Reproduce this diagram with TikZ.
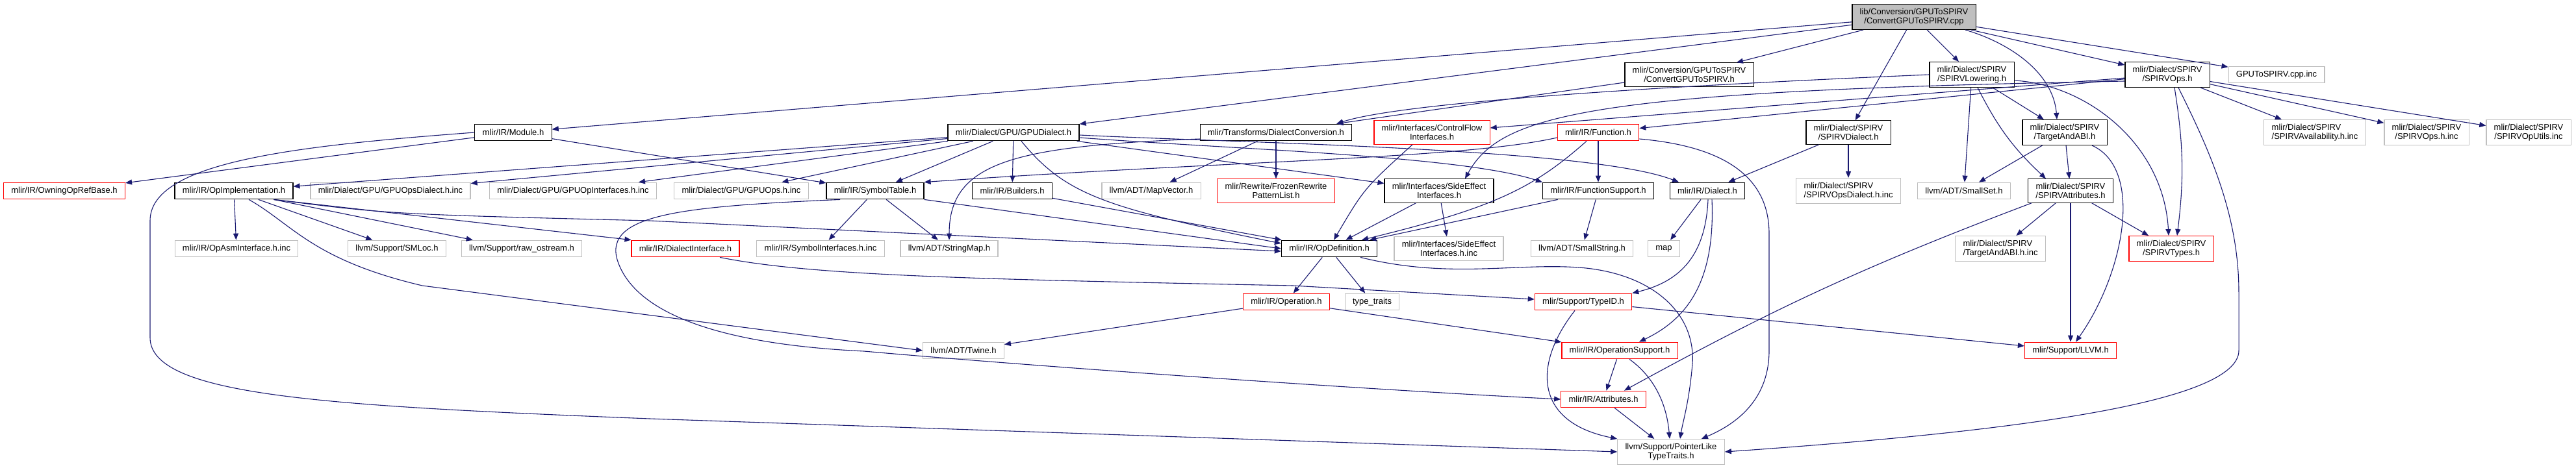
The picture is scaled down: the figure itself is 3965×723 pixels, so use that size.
\documentclass[tikz,border=0pt]{standalone}
\usepackage{fontspec}
\setsansfont{Liberation Sans}
\usepackage{tikz}
\usetikzlibrary{arrows.meta}
\definecolor{edgeblue}{HTML}{191970}
\definecolor{srcgray}{HTML}{BFBFBF}
\definecolor{extgray}{HTML}{BFBFBF}
\definecolor{truncred}{HTML}{FF0000}

\begin{document}
\begin{tikzpicture}[
  x=0.5pt, y=-0.5pt,
  hdr/.style={rectangle, draw=black, line width=0.6pt, fill=white, align=center,
    font=\sffamily\fontsize{6.5}{7}\selectfont, inner xsep=5.9pt, inner ysep=3.2pt,
    minimum height=12.8pt},
  src/.style={hdr, fill=srcgray},
  trunc/.style={hdr, draw=truncred},
  ext/.style={hdr, draw=extgray},
  arr/.style={-{Triangle[length=5pt,width=4pt]}, edgeblue, line width=0.55pt},
]
  \useasboundingbox (0,0) rectangle (3965,723);

  \node[src] (main) at (2946,26) {lib/Conversion/GPUToSPIRV\\/ConvertGPUToSPIRV.cpp};

  \node[hdr] (convh) at (2600,115) {mlir/Conversion/GPUToSPIRV\\/ConvertGPUToSPIRV.h};
  \node[hdr] (lowering) at (3035,115) {mlir/Dialect/SPIRV\\/SPIRVLowering.h};
  \node[hdr] (spirvops) at (3336,115) {mlir/Dialect/SPIRV\\/SPIRVOps.h};
  \node[ext] (cppinc) at (3504,115) {GPUToSPIRV.cpp.inc};

  \node[hdr] (module) at (790,204) {mlir/IR/Module.h};
  \node[hdr] (gpudialect) at (1560,204) {mlir/Dialect/GPU/GPUDialect.h};
  \node[hdr] (dconv) at (1964,204) {mlir/Transforms/DialectConversion.h};
  \node[trunc] (cflow) at (2204,204) {mlir/Interfaces/ControlFlow\\Interfaces.h};
  \node[trunc] (function) at (2460,204) {mlir/IR/Function.h};
  \node[hdr] (spirvdialect) at (2845,204) {mlir/Dialect/SPIRV\\/SPIRVDialect.h};
  \node[hdr] (tabi) at (3178,204) {mlir/Dialect/SPIRV\\/TargetAndABI.h};
  \node[ext, align=left] (avail) at (3563,204) {mlir/Dialect/SPIRV\\/SPIRVAvailability.h.inc};
  \node[ext] (opsinc) at (3735,204) {mlir/Dialect/SPIRV\\/SPIRVOps.h.inc};
  \node[ext] (oputils) at (3892,204) {mlir/Dialect/SPIRV\\/SPIRVOpUtils.inc};

  \node[trunc] (owning) at (99,294) {mlir/IR/OwningOpRefBase.h};
  \node[hdr] (opimpl) at (360,294) {mlir/IR/OpImplementation.h};
  \node[ext] (gpuopsdialect) at (601,294) {mlir/Dialect/GPU/GPUOpsDialect.h.inc};
  \node[ext] (gpuopif) at (882,294) {mlir/Dialect/GPU/GPUOpInterfaces.h.inc};
  \node[ext] (gpuopsinc) at (1141,294) {mlir/Dialect/GPU/GPUOps.h.inc};
  \node[hdr] (symtab) at (1347,294) {mlir/IR/SymbolTable.h};
  \node[hdr] (builders) at (1558,294) {mlir/IR/Builders.h};
  \node[ext] (mapvec) at (1772,294) {llvm/ADT/MapVector.h};
  \node[trunc] (frozen) at (1964,294) {mlir/Rewrite/FrozenRewrite\\PatternList.h};
  \node[hdr] (sideeff) at (2215,294) {mlir/Interfaces/SideEffect\\Interfaces.h};
  \node[hdr] (funcsup) at (2460,294) {mlir/IR/FunctionSupport.h};
  \node[hdr] (dialect) at (2628,294) {mlir/IR/Dialect.h};
  \node[ext, align=left] (opsdialinc) at (2845,294) {mlir/Dialect/SPIRV\\/SPIRVOpsDialect.h.inc};
  \node[ext] (smallset) at (3023,294) {llvm/ADT/SmallSet.h};
  \node[hdr] (spattr) at (3187,294) {mlir/Dialect/SPIRV\\/SPIRVAttributes.h};

  \node[ext] (asmif) at (364,383) {mlir/IR/OpAsmInterface.h.inc};
  \node[ext] (smloc) at (611,383) {llvm/Support/SMLoc.h};
  \node[ext] (rawos) at (803,383) {llvm/Support/raw\_ostream.h};
  \node[trunc] (dialif) at (1055,383) {mlir/IR/DialectInterface.h};
  \node[ext] (symif) at (1263,383) {mlir/IR/SymbolInterfaces.h.inc};
  \node[ext] (strmap) at (1461,383) {llvm/ADT/StringMap.h};
  \node[hdr] (opdef) at (2046,383) {mlir/IR/OpDefinition.h};
  \node[ext] (sideinc) at (2230,383) {mlir/Interfaces/SideEffect\\Interfaces.h.inc};
  \node[ext] (smallstr) at (2435,383) {llvm/ADT/SmallString.h};
  \node[ext] (stdmap) at (2561,383) {map};
  \node[ext, align=left] (tabiinc) at (3079,383) {mlir/Dialect/SPIRV\\/TargetAndABI.h.inc};
  \node[trunc] (sptypes) at (3342,383) {mlir/Dialect/SPIRV\\/SPIRVTypes.h};

  \node[trunc] (operation) at (1980,465) {mlir/IR/Operation.h};
  \node[ext] (typetraits) at (2112,465) {type\_traits};
  \node[trunc] (typeid) at (2437,465) {mlir/Support/TypeID.h};

  \node[ext] (twine) at (1483,540) {llvm/ADT/Twine.h};
  \node[trunc] (opsupport) at (2493,540) {mlir/IR/OperationSupport.h};
  \node[trunc] (llvmh) at (3187,540) {mlir/Support/LLVM.h};

  \node[trunc] (attrs) at (2468,615) {mlir/IR/Attributes.h};

  \node[ext] (ptrlike) at (2572,696) {llvm/Support/PointerLike\\TypeTraits.h};

  \draw[arr] (main) -- (convh);
  \draw[arr] (main) -- (lowering);
  \draw[arr] (main) -- (spirvops);
  \draw[arr] (main) -- (cppinc);
  \draw[arr] (main) -- (module);
  \draw[arr] (main) -- (gpudialect);
  \draw[arr] (main) -- (spirvdialect);
  \draw[arr] ([xshift=39.5pt]main.south) .. controls (3090,65) and (3160,110) .. ([xshift=-6pt]tabi.north);

  \draw[arr] ([yshift=-6pt]convh.west) -- ([xshift=-12pt]dconv.north east);

  \draw[arr] (lowering.west) .. controls (2500,135) and (2150,160) .. ([xshift=-12pt]dconv.north east);
  \draw[arr] (lowering) -- (smallset);
  \draw[arr] (lowering) -- (tabi);
  \draw[arr] ([xshift=4.5pt]lowering.south) to[bend right=10] ([xshift=-19pt]spattr.north);
  \draw[arr] ([yshift=-4.5pt]lowering.east) .. controls (3210,130) and (3330,220) .. ([xshift=-2pt]sptypes.north);

  \draw[arr] (spirvops) -- (avail);
  \draw[arr] (spirvops) -- (opsinc);
  \draw[arr] (spirvops) -- (oputils);
  \draw[arr] ([xshift=5.5pt]spirvops.south) to[bend left=8] ([xshift=4.5pt]sptypes.north);
  \draw[arr] ([xshift=8.5pt]spirvops.south) .. controls (3400,230) and (3446,330) .. (3446,450) -- (3446,540)
    .. controls (3446,620) and (3100,665) .. (ptrlike.east);
  \draw[arr] (spirvops) -- (cflow);
  \draw[arr] (spirvops) -- (function);
  \draw[arr] ([yshift=-5pt]spirvops.west) .. controls (2450,140) and (2310,175) .. ([xshift=20pt]sideeff.north);

  \draw[arr] (module) -- (owning);
  \draw[arr] (module) -- (symtab);
  \draw[arr] (module.west) .. controls (450,225) and (231,250) .. (231,340) -- (231,520)
    .. controls (231,610) and (500,625) .. (1000,645) -- (ptrlike.west);

  \draw[arr] (gpudialect) -- (opimpl);
  \draw[arr] (gpudialect) -- (gpuopsdialect);
  \draw[arr] (gpudialect) -- (gpuopif);
  \draw[arr] (gpudialect) -- (gpuopsinc);
  \draw[arr] (gpudialect) -- (symtab);
  \draw[arr] (gpudialect) -- (builders);
  \draw[arr] ([xshift=6pt]gpudialect.south) .. controls (1640,300) and (1700,320) .. ([yshift=4pt]opdef.west);
  \draw[arr] (gpudialect) -- (sideeff);
  \draw[arr] ([yshift=-4pt]gpudialect.east) .. controls (1900,230) and (2250,240) .. (funcsup.north west);
  \draw[arr] ([yshift=-2pt]gpudialect.east) .. controls (1900,220) and (2450,228) .. ([xshift=-22pt]dialect.north);

  \draw[arr] (dconv) -- (mapvec);
  \draw[arr] (dconv) -- (frozen);
  \draw[arr] ([yshift=-5pt]dconv.west) .. controls (1560,225) and (1461,250) .. (strmap.north);

  \draw[arr] ([xshift=-15pt]cflow.south) .. controls (2100,290) .. ([xshift=3.5pt]opdef.north);

  \draw[arr] (function) -- (funcsup);
  \draw[arr] ([xshift=-9pt]function.south) .. controls (2360,290) and (2300,320) .. ([xshift=25pt]opdef.north);
  \draw[arr] ([yshift=-4pt]function.west) .. controls (2250,245) and (1900,247) .. (symtab.north east);
  \draw[arr] ([yshift=-5pt]function.east) .. controls (2650,225) and (2723,270) .. (2723,360) -- (2723,540)
    .. controls (2723,610) and (2680,650) .. ([xshift=-18pt]ptrlike.north east);

  \draw[arr] (spirvdialect) -- (dialect);
  \draw[arr] (spirvdialect) -- (opsdialinc);

  \draw[arr] (tabi) -- (smallset);
  \draw[arr] (tabi) -- (spattr);
  \draw[arr] ([xshift=21pt]tabi.south) .. controls (3300,260) and (3270,420) .. ([xshift=4pt]llvmh.north);

  \draw[arr] (opimpl) -- (asmif);
  \draw[arr] ([xshift=11.5pt]opimpl.south) .. controls (450,345) and (480,400) .. (650,440) -- (twine.west);
  \draw[arr] (opimpl) -- (smloc);
  \draw[arr] ([xshift=-15pt]opimpl.south east) -- ([xshift=9pt]rawos.north west);
  \draw[arr] ([xshift=-15pt]opimpl.south east) -- (dialif.north west);
  \draw[arr] ([xshift=-15pt]opimpl.south east) .. controls (600,330) .. (1000,340) -- ([yshift=-2pt]opdef.west);

  \draw[arr] (symtab) -- (symif);
  \draw[arr] (symtab) -- (strmap);
  \draw[arr] (symtab.south east) -- (opdef.west);
  \draw[arr] ([xshift=-27pt]symtab.south) .. controls (1050,318) and (930,330) .. (950,400)
    .. controls (975,480) and (1100,530) .. (1330,541) .. controls (1600,565) and (2100,600) .. (attrs.west);

  \draw[arr] (builders) -- (opdef);

  \draw[arr] (sideeff) -- (opdef);
  \draw[arr] (sideeff) -- (sideinc);

  \draw[arr] (funcsup) -- (opdef);
  \draw[arr] (funcsup) -- (smallstr);

  \draw[arr] (dialect) -- (stdmap);
  \draw[arr] ([xshift=0.5pt]dialect.south) .. controls (2625,400) and (2580,435) .. (typeid.north east);
  \draw[arr] ([xshift=3.5pt]dialect.south) .. controls (2640,430) and (2600,490) .. ([xshift=15pt]opsupport.north);

  \draw[arr] ([xshift=-30pt]spattr.south) to[bend right=4] ([xshift=16pt]attrs.north);
  \draw[arr] (spattr) -- (tabiinc);
  \draw[arr] (spattr) -- (llvmh);
  \draw[arr] (spattr) -- (sptypes);

  \draw[arr] (opdef) -- (operation);
  \draw[arr] (opdef) -- (typetraits);
  \draw[arr] ([xshift=24pt]opdef.south) .. controls (2230,430) and (2330,405) .. (2430,412)
    .. controls (2540,420) and (2610,480) .. (2605,560) .. controls (2600,620) and (2590,650) .. ([xshift=7pt]ptrlike.north);

  \draw[arr] (operation) -- (twine);
  \draw[arr] (operation) -- (opsupport);

  \draw[arr] ([xshift=-6.5pt]typeid.south) .. controls (2360,560) and (2360,650) .. (ptrlike.north west);
  \draw[arr] (typeid) -- (llvmh);

  \draw[arr] ([xshift=26.5pt]dialif.south) .. controls (1250,425) and (1500,430) .. (1990,440) -- ([yshift=2pt]typeid.west);

  \draw[arr] (opsupport) -- (attrs);
  \draw[arr] ([xshift=7.5pt]opsupport.south) .. controls (2545,580) and (2565,620) .. ([xshift=-1pt]ptrlike.north);

  \draw[arr] (attrs) -- (ptrlike);
\end{tikzpicture}
\end{document}
